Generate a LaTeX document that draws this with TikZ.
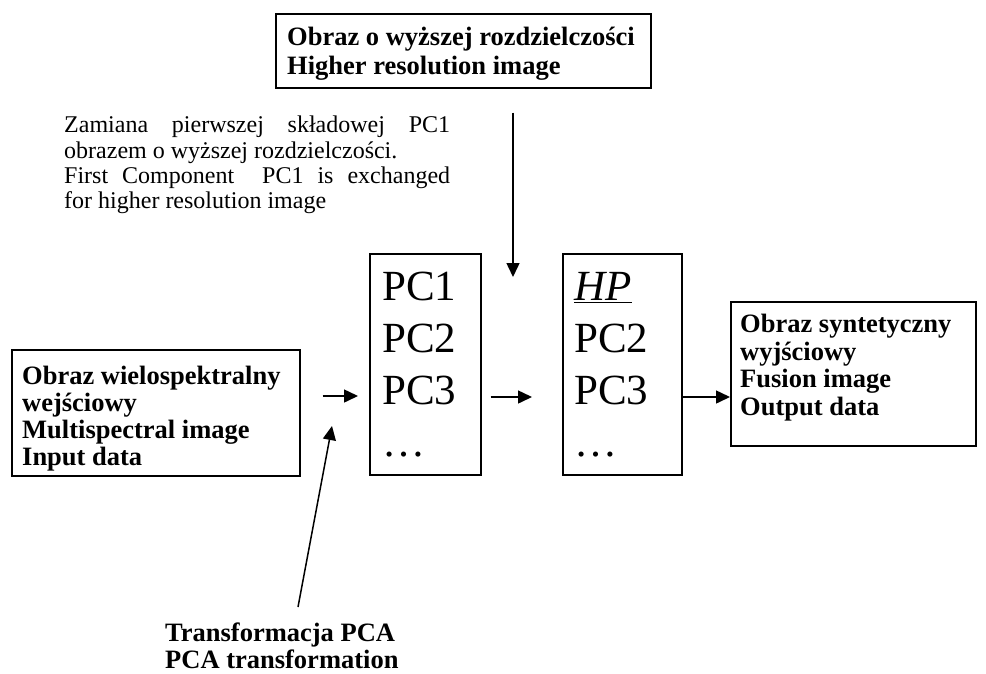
\documentclass[tikz,border=0pt]{standalone}
\usepackage{fontspec}
\setmainfont{Liberation Serif}
\usetikzlibrary{arrows.meta}
\begin{document}
\begin{tikzpicture}[x=1pt,y=-1pt,
  box/.style 2 args={draw,line width=1.5pt,anchor=north west,minimum width=#1,minimum height=#2,inner sep=0pt},
  btxt/.style={font=\bfseries\fontsize{26.5}{#1}\selectfont,align=left,inner sep=0pt,anchor=north west},
  pctxt/.style={font=\fontsize{43}{52}\selectfont,align=left,inner sep=0pt,anchor=north west},
  arr/.style={line width=1.5pt,-{Triangle[length=14pt,width=13pt]}}]
\useasboundingbox (0,0) rectangle (986,673);
% boxes
\node[box={375pt}{74pt}] (topbox) at (275,13) {};
\node[box={288pt}{126pt}] (inbox) at (11,349) {};
\node[box={111pt}{221pt}] (pcbox) at (369,253) {};
\node[box={119pt}{221pt}] (hpbox) at (562,253) {};
\node[box={245pt}{144pt}] (outbox) at (730,301) {};
% texts
\node[btxt=29] (toptxt) at (287,27) {Obraz o wyższej rozdzielczości\\Higher resolution image};
\node[btxt=27] (intxt) at (22,366) {Obraz wielospektralny\\wejściowy\\Multispectral image\\Input data};
\node[btxt=27.5] (outtxt) at (740,314) {Obraz syntetyczny\\wyjściowy\\Fusion image\\Output data};
\node[btxt=27] (pcatxt) at (165,623) {Transformacja PCA\\PCA transformation};
\node[pctxt] (pctext) at (382,272) {PC1\\PC2\\PC3\\…};
\node[pctxt] (hptext) at (574,272) {\underline{\textit{HP}}\\PC2\\PC3\\…};
\node[anchor=north west,inner sep=0pt,font=\fontsize{24}{25.3}\selectfont] (note) at (64,116)
  {\parbox{386pt}{Zamiana pierwszej składowej PC1\linebreak obrazem o wyższej rozdzielczości.\par
   First Component\ \ PC1 is exchanged\linebreak for higher resolution image}};
% connectors
\coordinate (r1) at (0,396);
\coordinate (r2) at (0,397);
\coordinate (tipA) at (513,277);
\coordinate (tailB) at (298,607);
\coordinate (tipB) at (332,426);
\draw[arr,shorten <=22pt,shorten >=11pt] (inbox.east |- r1) -- (pcbox.west |- r1);
\draw[arr,shorten <=9pt,shorten >=30pt] (pcbox.east |- r2) -- (hpbox.west |- r2);
\draw[arr] (hpbox.east |- r2) -- (outbox.west |- r2);
\draw[arr,shorten <=24pt] (topbox.south -| tipA) -- (tipA);
\draw[arr] (tailB) -- (tipB);
\end{tikzpicture}
\end{document}
